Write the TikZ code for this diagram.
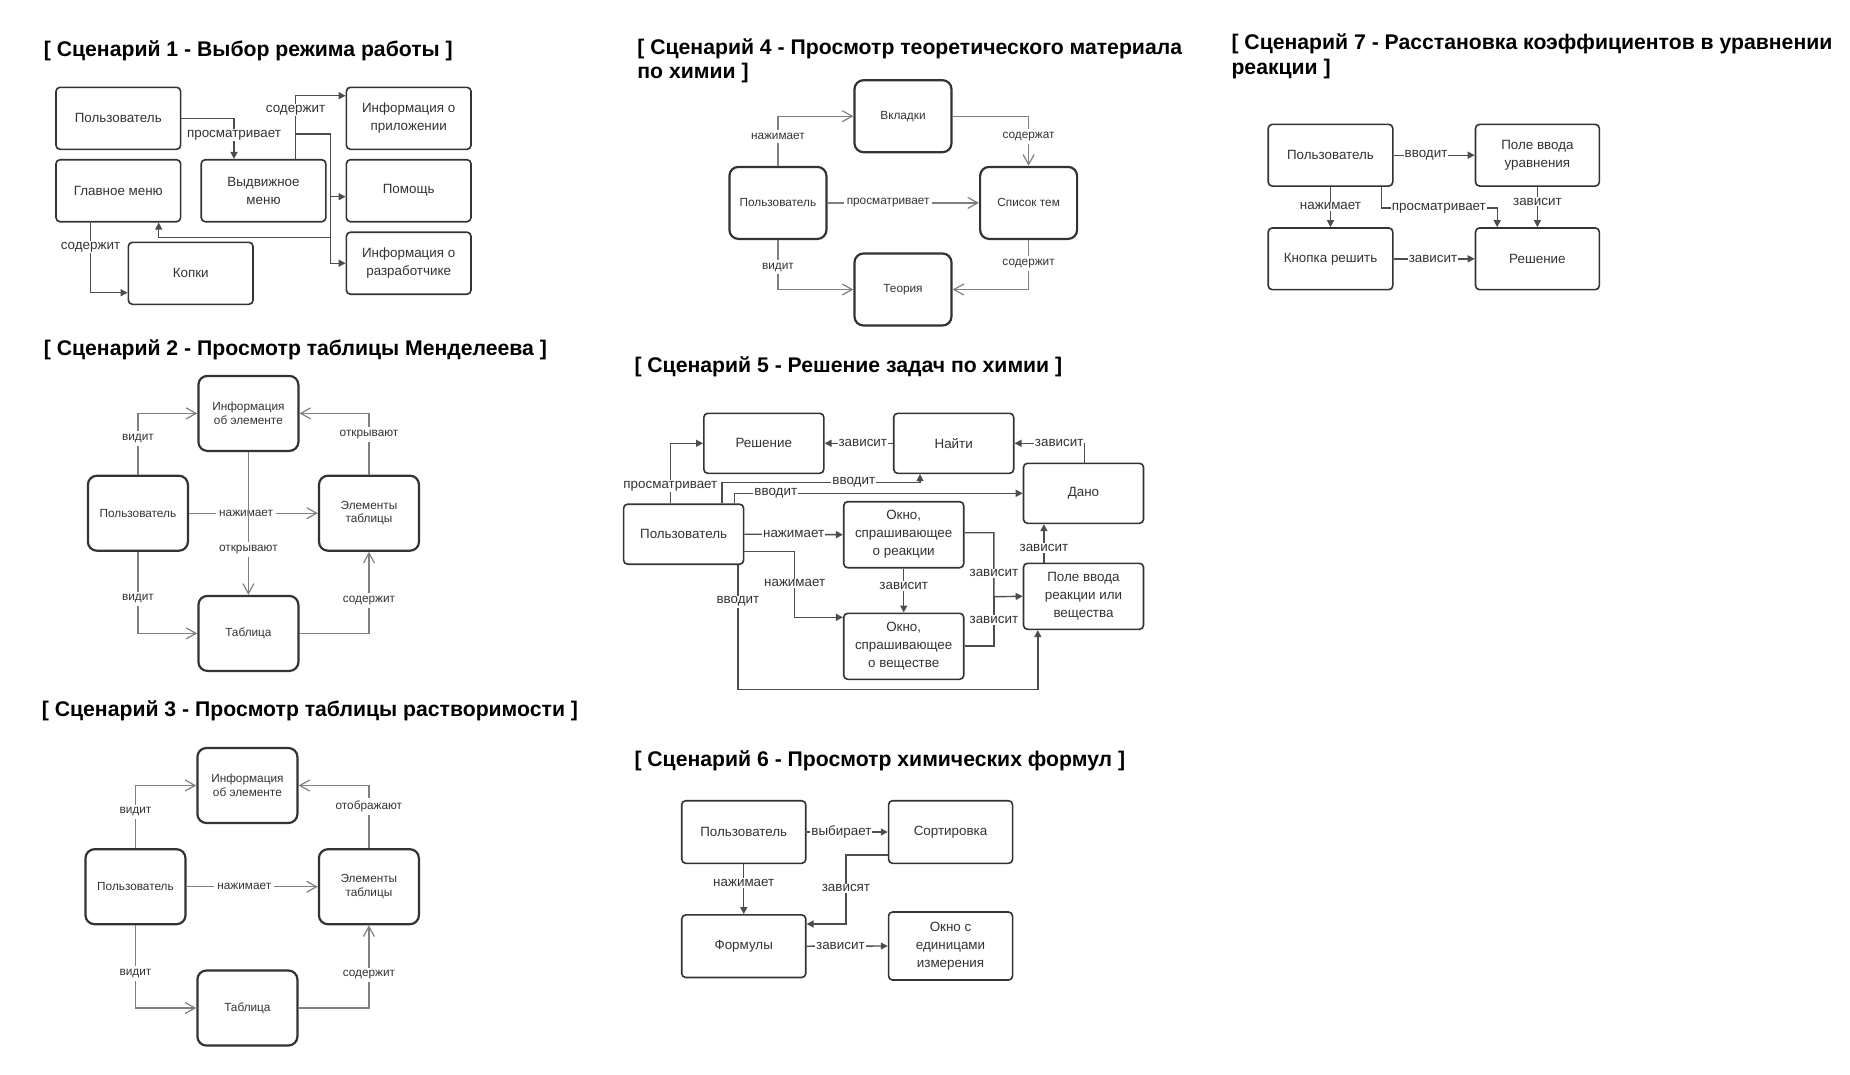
\documentclass[tikz,border=0pt]{standalone}
\usepackage{fontspec}
\setmainfont{Liberation Sans}
\usetikzlibrary{arrows.meta}
\definecolor{boxline}{HTML}{333333}
\definecolor{lucidline}{HTML}{4D4D4D}
\definecolor{umlline}{HTML}{808080}
\definecolor{labeltext}{HTML}{333333}

\tikzset{
  sctitle/.style={anchor=base west, inner sep=0pt, align=left, font=\fontsize{21.2}{24.3}\selectfont\bfseries},
  lbox/.style={draw=boxline, line width=1.6pt, rounded corners=4pt, minimum width=124.6pt, minimum height=62pt, align=center, text=labeltext, font=\fontsize{13.4}{18}\selectfont, inner sep=0pt},
  ubox/.style={draw=boxline, line width=2.2pt, rounded corners=9pt, minimum width=100pt, minimum height=75pt, align=center, text=labeltext, font=\fontsize{11.8}{13.5}\selectfont, inner sep=0pt},
  lseg/.style={draw=lucidline, line width=1.4pt},
  lline/.style={lseg, -{Triangle[length=7pt,width=7pt]}},
  uline/.style={draw=umlline, line width=1.2pt, -{Straight Barb[length=10pt,width=11pt]}},
  llab/.style={fill=white, inner sep=1pt, text=labeltext, font=\fontsize{13.4}{16}\selectfont},
  ulab/.style={fill=white, inner sep=3pt, text=labeltext, font=\fontsize{11.8}{14}\selectfont},
}

\begin{document}
\begin{tikzpicture}[x=1pt,y=-1pt]
\useasboundingbox[fill=white] (0,0) rectangle (1850,1074);

% Scenario 1
\node[sctitle] (t1) at (43.7,56.7) {[ Сценарий 1 - Выбор режима работы ]};
\node[lbox] (s1user) at (118.3,118.3) {Пользователь};
\node[lbox] (s1main) at (118.3,190.7) {Главное меню};
\node[lbox] (s1menu) at (263.5,190.7) {Выдвижное\\меню};
\node[lbox] (s1btn) at (190.7,273.3) {Копки};
\node[lbox] (s1about) at (408.7,118.3) {Информация о\\приложении};
\node[lbox] (s1help) at (408.7,190.7) {Помощь};
\node[lbox] (s1dev) at (408.7,263.2) {Информация о\\разработчике};
\coordinate (s1j) at (295.6,134);
\coordinate (s1k) at (330.6,134);
\coordinate (s1m) at (330.6,237.3);
\draw[lline] (s1user.east) -| ([xshift=-29.5pt]s1menu.north) node[llab,pos=0.71] {просматривает};
\draw[lline] ([xshift=32.1pt]s1menu.north) |- ([yshift=22.6pt]s1about.west) node[llab,pos=0.383] {содержит};
\draw[lline] (s1j) -- (s1k) |- (s1dev.west);
\draw[lline] (s1k) |- ([yshift=-6pt]s1help.west);
\draw[lline] (s1m) -| ([xshift=40.4pt]s1main.south);
\draw[lline] ([xshift=-27.8pt]s1main.south) |- ([yshift=-19.4pt]s1btn.west) node[llab,pos=0.176] {содержит};

% Scenario 2
\node[sctitle] (t2) at (43.7,355) {[ Сценарий 2 - Просмотр таблицы Менделеева ]};
\node[ubox] (s2info) at (248.4,413.4) {Информация\\об элементе};
\node[ubox] (s2user) at (137.9,513.2) {Пользователь};
\node[ubox] (s2elem) at (369,513.2) {Элементы\\таблицы};
\node[ubox] (s2table) at (248.4,633.4) {Таблица};
\draw[uline] (s2user.north) |- (s2info.west) node[ulab,pos=0.295] {видит};
\draw[uline] (s2user.south) |- (s2table.west) node[ulab,pos=0.288] {видит};
\draw[uline] (s2user.east) -- (s2elem.west) node[ulab,pos=0.443] {нажимает};
\draw[uline] (s2info.south) -- (s2table.north) node[ulab,pos=0.68] {открывают};
\draw[uline] (s2elem.north) |- (s2info.east) node[ulab,pos=0.33] {открывают};
\draw[uline] (s2table.east) -| (s2elem.south) node[ulab,pos=0.7] {содержит};

% Scenario 3
\node[sctitle] (t3) at (41.7,716.7) {[ Сценарий 3 - Просмотр таблицы растворимости ]};
\node[ubox] (s3info) at (247.4,785.5) {Информация\\об элементе};
\node[ubox] (s3user) at (135.5,886.7) {Пользователь};
\node[ubox] (s3elem) at (368.9,886.7) {Элементы\\таблицы};
\node[ubox] (s3table) at (247.4,1008) {Таблица};
\draw[uline] (s3user.north) |- (s3info.west) node[ulab,pos=0.29] {видит};
\draw[uline] (s3user.south) |- (s3table.west) node[ulab,pos=0.29] {видит};
\draw[uline] (s3user.east) -- (s3elem.west) node[ulab,pos=0.44] {нажимает};
\draw[uline] (s3elem.north) |- (s3info.east) node[ulab,pos=0.333] {отображают};
\draw[uline] (s3table.east) -| (s3elem.south) node[ulab,pos=0.7] {содержит};

% Scenario 4
\node[sctitle] (t4) at (637.2,78.3) {[ Сценарий 4 - Просмотр теоретического материала\\по химии ]};
\node[ubox, minimum width=97pt, minimum height=72pt] (s4tabs) at (903,116.2) {Вкладки};
\node[ubox, minimum width=97pt, minimum height=72pt] (s4user) at (777.9,202.9) {Пользователь};
\node[ubox, minimum width=97pt, minimum height=72pt] (s4topics) at (1028.6,202.9) {Список тем};
\node[ubox, minimum width=97pt, minimum height=72pt] (s4theory) at (903,289.5) {Теория};
\draw[uline] (s4user.north) |- (s4tabs.west) node[ulab,pos=0.297] {нажимает};
\draw[uline] (s4user.south) |- (s4theory.west) node[ulab,pos=0.274] {видит};
\draw[uline] (s4user.east) -- (s4topics.west) node[ulab,pos=0.4] {просматривает};
\draw[uline] (s4tabs.east) -| (s4topics.north) node[ulab,pos=0.703] {содержат};
\draw[uline] (s4topics.south) |- (s4theory.east) node[ulab,pos=0.24] {содержит};

% Scenario 5
\node[sctitle] (t5) at (634.3,372.3) {[ Сценарий 5 - Решение задач по химии ]};
\node[lbox, minimum width=120pt, minimum height=60pt] (s5sol) at (763.8,443.3) {Решение};
\node[lbox, minimum width=120pt, minimum height=60pt] (s5find) at (953.7,443.3) {Найти};
\node[lbox, minimum width=120pt, minimum height=60pt] (s5given) at (1083.5,493.3) {Дано};
\node[lbox, minimum width=120pt, minimum height=60pt] (s5user) at (683.6,534.2) {Пользователь};
\node[lbox, minimum width=120pt, minimum height=66pt] (s5react) at (903.7,534.7) {Окно,\\спрашивающее\\о реакции};
\node[lbox, minimum width=120pt, minimum height=66pt] (s5field) at (1083.5,596.3) {Поле ввода\\реакции или\\вещества};
\node[lbox, minimum width=120pt, minimum height=66pt] (s5subst) at (903.7,646.3) {Окно,\\спрашивающее\\о веществе};
\coordinate (s5j) at (993.9,596.7);
\draw[lline] ([xshift=-13.2pt]s5user.north) |- (s5sol.west) node[llab,pos=0.144] {просматривает};
\draw[lline] ([xshift=38.2pt]s5user.north) -- ++(0,-21) -| ([xshift=-33.7pt]s5find.south) node[llab,pos=0.333] {вводит};
\draw[lline] ([xshift=50.7pt]s5user.north) |- (s5given.west) node[llab,pos=0.572] {вводит};
\draw[lline] (s5find.west) -- (s5sol.east) node[llab,pos=0.44] {зависит};
\draw[lline] ([xshift=0.8pt]s5given.north) |- (s5find.east) node[llab,pos=0.68] {зависит};
\draw[lline] (s5user.east) -- (s5react.west) node[llab,pos=0.5] {нажимает};
\draw[lline] ([yshift=-17.5pt]s5user.east) -- ++(50.3,0) |- ([yshift=29pt]s5subst.west) node[llab,pos=0.24] {нажимает};
\draw[lline] ([xshift=54.3pt]s5user.south) -- ++(0,124.3) node[llab,pos=0.295] {вводит} -| ([xshift=-45.7pt]s5field.south);
\draw[lline] (s5react.south) -- (s5subst.north) node[llab,pos=0.395] {зависит};
\draw[lline] ([yshift=2pt]s5react.east) -| (s5j) node[llab,pos=0.817] {зависит} -- (s5field.west);
\draw[lseg] ([yshift=0.3pt]s5subst.east) -| (s5j) node[llab,pos=0.764] {зависит};
\draw[lline] ([xshift=-39.6pt]s5field.north) -- ([xshift=-39.6pt]s5given.south) node[llab,pos=0.375] {зависит};

% Scenario 6
\node[sctitle] (t6) at (634.3,766.7) {[ Сценарий 6 - Просмотр химических формул ]};
\node[lbox, minimum width=124pt, minimum height=62.6pt] (s6user) at (743.75,832) {Пользователь};
\node[lbox, minimum width=124pt, minimum height=62.6pt] (s6sort) at (950.55,832) {Сортировка};
\node[lbox, minimum width=124pt, minimum height=62.6pt] (s6form) at (743.75,946.2) {Формулы};
\node[lbox, minimum width=124pt, minimum height=68pt] (s6units) at (950.55,946) {Окно с\\единицами\\измерения};
\draw[lline] (s6user.east) -- (s6sort.west) node[llab,pos=0.43] {выбирает};
\draw[lline] (s6user.south) -- (s6form.north) node[llab,pos=0.375] {нажимает};
\draw[lline] ([yshift=-23pt]s6sort.west) -- ++(-41.8,0) |- ([yshift=22.2pt]s6form.east) node[llab,pos=0.241] {зависят};
\draw[lline] (s6form.east) -- (s6units.west) node[llab,pos=0.417] {зависит};

% Scenario 7
\node[sctitle] (t7) at (1231.3,74) {[ Сценарий 7 - Расстановка коэффициентов в уравнении\\реакции ]};
\node[lbox, minimum height=61.7pt] (s7user) at (1330.5,155.2) {Пользователь};
\node[lbox, minimum width=123.8pt, minimum height=61.7pt] (s7field) at (1537.4,155.2) {Поле ввода\\уравнения};
\node[lbox, minimum height=61.7pt] (s7btn) at (1330.5,258.8) {Кнопка решить};
\node[lbox, minimum width=123.8pt, minimum height=61.7pt] (s7sol) at (1537.4,258.8) {Решение};
\draw[lline] (s7user.east) -- (s7field.west) node[llab,pos=0.4] {вводит};
\draw[lline] (s7user.south) -- (s7btn.north) node[llab,pos=0.48] {нажимает};
\draw[lline] ([xshift=51pt]s7user.south) -- ++(0,21.3) -| ([xshift=-40.2pt]s7sol.north) node[llab,pos=0.248] {просматривает};
\draw[lline] (s7field.south) -- (s7sol.north) node[llab,pos=0.367] {зависит};
\draw[lline] (s7btn.east) -- (s7sol.west) node[llab,pos=0.486] {зависит};
\end{tikzpicture}
\end{document}
